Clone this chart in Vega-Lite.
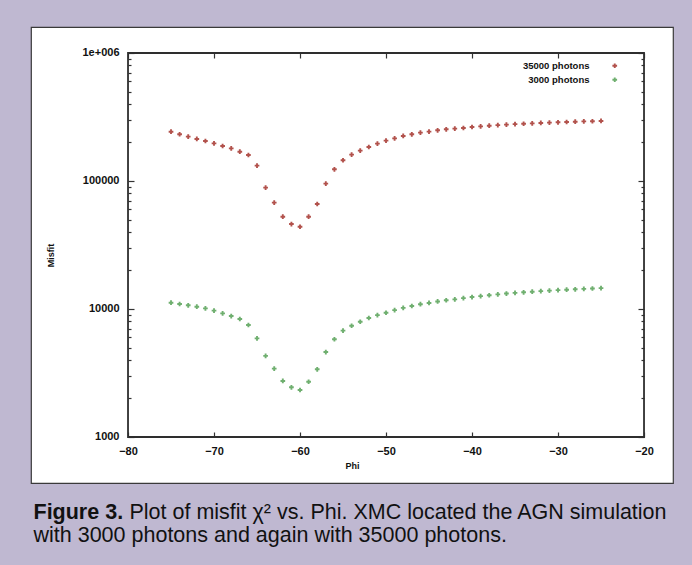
{
  "$schema": "https://vega.github.io/schema/vega-lite/v6.json",
  "width": 642,
  "height": 456,
  "autosize": {"type": "none"},
  "padding": {"left": 31, "top": 27, "right": 19, "bottom": 82},
  "background": "#bfb8d1",
  "config": {
    "view": {"fill": "white", "stroke": "#3a3a3a", "strokeWidth": 1.2},
    "axis": {
      "grid": false,
      "domain": false,
      "labelFont": "Liberation Sans",
      "labelFontWeight": "bold",
      "labelFontSize": 11,
      "labelColor": "#111111",
      "tickColor": "#333333",
      "tickWidth": 1.2,
      "titleFont": "Liberation Sans",
      "titleFontWeight": "bold",
      "titleFontSize": 9,
      "titleColor": "#111111"
    }
  },
  "datasets": {
    "fit": [
      {"phi": -75, "misfit": 242700, "series": "35000 photons"},
      {"phi": -74, "misfit": 231700, "series": "35000 photons"},
      {"phi": -73, "misfit": 222000, "series": "35000 photons"},
      {"phi": -72, "misfit": 213000, "series": "35000 photons"},
      {"phi": -71, "misfit": 205400, "series": "35000 photons"},
      {"phi": -70, "misfit": 196900, "series": "35000 photons"},
      {"phi": -69, "misfit": 187600, "series": "35000 photons"},
      {"phi": -68, "misfit": 180000, "series": "35000 photons"},
      {"phi": -67, "misfit": 169400, "series": "35000 photons"},
      {"phi": -66, "misfit": 159600, "series": "35000 photons"},
      {"phi": -65, "misfit": 131800, "series": "35000 photons"},
      {"phi": -64, "misfit": 88700, "series": "35000 photons"},
      {"phi": -63, "misfit": 67700, "series": "35000 photons"},
      {"phi": -62, "misfit": 52600, "series": "35000 photons"},
      {"phi": -61, "misfit": 46100, "series": "35000 photons"},
      {"phi": -60, "misfit": 43900, "series": "35000 photons"},
      {"phi": -59, "misfit": 52600, "series": "35000 photons"},
      {"phi": -58, "misfit": 66100, "series": "35000 photons"},
      {"phi": -57, "misfit": 95300, "series": "35000 photons"},
      {"phi": -56, "misfit": 123400, "series": "35000 photons"},
      {"phi": -55, "misfit": 145200, "series": "35000 photons"},
      {"phi": -54, "misfit": 160600, "series": "35000 photons"},
      {"phi": -53, "misfit": 172500, "series": "35000 photons"},
      {"phi": -52, "misfit": 184300, "series": "35000 photons"},
      {"phi": -51, "misfit": 195700, "series": "35000 photons"},
      {"phi": -50, "misfit": 206500, "series": "35000 photons"},
      {"phi": -49, "misfit": 215400, "series": "35000 photons"},
      {"phi": -48, "misfit": 224800, "series": "35000 photons"},
      {"phi": -47, "misfit": 231600, "series": "35000 photons"},
      {"phi": -46, "misfit": 238600, "series": "35000 photons"},
      {"phi": -45, "misfit": 243200, "series": "35000 photons"},
      {"phi": -44, "misfit": 248900, "series": "35000 photons"},
      {"phi": -43, "misfit": 253500, "series": "35000 photons"},
      {"phi": -42, "misfit": 256400, "series": "35000 photons"},
      {"phi": -41, "misfit": 259400, "series": "35000 photons"},
      {"phi": -40, "misfit": 264200, "series": "35000 photons"},
      {"phi": -39, "misfit": 267300, "series": "35000 photons"},
      {"phi": -38, "misfit": 270400, "series": "35000 photons"},
      {"phi": -37, "misfit": 273000, "series": "35000 photons"},
      {"phi": -36, "misfit": 275500, "series": "35000 photons"},
      {"phi": -35, "misfit": 278000, "series": "35000 photons"},
      {"phi": -34, "misfit": 280000, "series": "35000 photons"},
      {"phi": -33, "misfit": 282000, "series": "35000 photons"},
      {"phi": -32, "misfit": 284000, "series": "35000 photons"},
      {"phi": -31, "misfit": 286000, "series": "35000 photons"},
      {"phi": -30, "misfit": 287500, "series": "35000 photons"},
      {"phi": -29, "misfit": 289000, "series": "35000 photons"},
      {"phi": -28, "misfit": 290500, "series": "35000 photons"},
      {"phi": -27, "misfit": 292000, "series": "35000 photons"},
      {"phi": -26, "misfit": 293000, "series": "35000 photons"},
      {"phi": -25, "misfit": 294500, "series": "35000 photons"},
      {"phi": -75, "misfit": 11200, "series": "3000 photons"},
      {"phi": -74, "misfit": 10940, "series": "3000 photons"},
      {"phi": -73, "misfit": 10690, "series": "3000 photons"},
      {"phi": -72, "misfit": 10420, "series": "3000 photons"},
      {"phi": -71, "misfit": 10120, "series": "3000 photons"},
      {"phi": -70, "misfit": 9700, "series": "3000 photons"},
      {"phi": -69, "misfit": 9250, "series": "3000 photons"},
      {"phi": -68, "misfit": 8810, "series": "3000 photons"},
      {"phi": -67, "misfit": 8350, "series": "3000 photons"},
      {"phi": -66, "misfit": 7500, "series": "3000 photons"},
      {"phi": -65, "misfit": 5900, "series": "3000 photons"},
      {"phi": -64, "misfit": 4300, "series": "3000 photons"},
      {"phi": -63, "misfit": 3420, "series": "3000 photons"},
      {"phi": -62, "misfit": 2740, "series": "3000 photons"},
      {"phi": -61, "misfit": 2445, "series": "3000 photons"},
      {"phi": -60, "misfit": 2330, "series": "3000 photons"},
      {"phi": -59, "misfit": 2700, "series": "3000 photons"},
      {"phi": -58, "misfit": 3380, "series": "3000 photons"},
      {"phi": -57, "misfit": 4610, "series": "3000 photons"},
      {"phi": -56, "misfit": 5800, "series": "3000 photons"},
      {"phi": -55, "misfit": 6770, "series": "3000 photons"},
      {"phi": -54, "misfit": 7400, "series": "3000 photons"},
      {"phi": -53, "misfit": 7950, "series": "3000 photons"},
      {"phi": -52, "misfit": 8500, "series": "3000 photons"},
      {"phi": -51, "misfit": 8950, "series": "3000 photons"},
      {"phi": -50, "misfit": 9350, "series": "3000 photons"},
      {"phi": -49, "misfit": 9800, "series": "3000 photons"},
      {"phi": -48, "misfit": 10200, "series": "3000 photons"},
      {"phi": -47, "misfit": 10550, "series": "3000 photons"},
      {"phi": -46, "misfit": 10900, "series": "3000 photons"},
      {"phi": -45, "misfit": 11150, "series": "3000 photons"},
      {"phi": -44, "misfit": 11450, "series": "3000 photons"},
      {"phi": -43, "misfit": 11700, "series": "3000 photons"},
      {"phi": -42, "misfit": 11900, "series": "3000 photons"},
      {"phi": -41, "misfit": 12150, "series": "3000 photons"},
      {"phi": -40, "misfit": 12400, "series": "3000 photons"},
      {"phi": -39, "misfit": 12600, "series": "3000 photons"},
      {"phi": -38, "misfit": 12800, "series": "3000 photons"},
      {"phi": -37, "misfit": 13000, "series": "3000 photons"},
      {"phi": -36, "misfit": 13200, "series": "3000 photons"},
      {"phi": -35, "misfit": 13350, "series": "3000 photons"},
      {"phi": -34, "misfit": 13500, "series": "3000 photons"},
      {"phi": -33, "misfit": 13650, "series": "3000 photons"},
      {"phi": -32, "misfit": 13800, "series": "3000 photons"},
      {"phi": -31, "misfit": 13900, "series": "3000 photons"},
      {"phi": -30, "misfit": 14050, "series": "3000 photons"},
      {"phi": -29, "misfit": 14150, "series": "3000 photons"},
      {"phi": -28, "misfit": 14250, "series": "3000 photons"},
      {"phi": -27, "misfit": 14350, "series": "3000 photons"},
      {"phi": -26, "misfit": 14450, "series": "3000 photons"},
      {"phi": -25, "misfit": 14550, "series": "3000 photons"}
    ]
  },
  "layer": [
    {
      "data": {"values": [{}]},
      "mark": {"type": "rect", "fillOpacity": 0, "stroke": "#2e2e2e", "strokeWidth": 1.8},
      "encoding": {
        "x": {"datum": -80, "type": "quantitative", "scale": {"domain": [-91.28, -16.63], "nice": false, "zero": false},
              "axis": {"orient": "top", "offset": -26, "values": [-80, -70, -60, -50, -40, -30, -20], "tickSize": -5, "labels": false,
                       "title": "Figure 3.", "titleX": 2, "titleY": 448, "titleAlign": "left", "titleAnchor": "start", "titleBaseline": "top", "titleAngle": 0,
                       "titleFont": "Liberation Sans", "titleFontSize": 21.5, "titleFontWeight": "bold", "titleColor": "#111111"}},
        "x2": {"datum": -20},
        "y": {"datum": 1000, "type": "quantitative", "scale": {"type": "log", "domain": [437.1, 1596000], "nice": false},
              "axis": {"orient": "right", "offset": -29, "values": [1000, 10000, 100000, 1000000], "tickSize": -6, "labels": false,
                       "title": "Plot of misfit \u03c7\u00b2 vs. Phi. XMC located the AGN simulation", "titleX": -515, "titleY": 474, "titleAlign": "left", "titleAnchor": "start", "titleBaseline": "top", "titleAngle": 0,
                       "titleFont": "Liberation Sans", "titleFontSize": 21.5, "titleFontWeight": "normal", "titleColor": "#111111"}},
        "y2": {"datum": 1000000}
      }
    },
    {
      "data": {"values": [{}]},
      "mark": {"type": "rect", "fillOpacity": 0, "strokeOpacity": 0},
      "encoding": {
        "x": {"datum": -80, "type": "quantitative", "axis": null},
        "x2": {"datum": -20},
        "y": {"datum": 1000, "type": "quantitative",
              "axis": {"orient": "left", "offset": -97, "values": [2000, 3000, 4000, 5000, 6000, 7000, 8000, 9000, 20000, 30000, 40000, 50000, 60000, 70000, 80000, 90000, 200000, 300000, 400000, 500000, 600000, 700000, 800000, 900000], "tickSize": -3, "labels": false,
                       "title": "with 3000 photons and again with 35000 photons.", "titleX": -95, "titleY": 497, "titleAlign": "left", "titleAnchor": "start", "titleBaseline": "top", "titleAngle": 0,
                       "titleFont": "Liberation Sans", "titleFontSize": 21.5, "titleFontWeight": "normal", "titleColor": "#111111"}},
        "y2": {"datum": 1000000}
      }
    },
    {
      "data": {"values": [{}]},
      "mark": {"type": "rect", "fillOpacity": 0, "strokeOpacity": 0},
      "encoding": {
        "x": {"datum": -80, "type": "quantitative", "axis": null},
        "x2": {"datum": -20},
        "y": {"datum": 1000, "type": "quantitative",
              "axis": {"orient": "right", "offset": -29, "values": [2000, 3000, 4000, 5000, 6000, 7000, 8000, 9000, 20000, 30000, 40000, 50000, 60000, 70000, 80000, 90000, 200000, 300000, 400000, 500000, 600000, 700000, 800000, 900000], "tickSize": -3, "labels": false, "title": null}},
        "y2": {"datum": 1000000}
      }
    },
    {
      "data": {"name": "fit"},
      "mark": {"type": "point", "shape": "cross", "filled": true, "size": 22, "opacity": 0.9},
      "encoding": {
        "x": {"field": "phi", "type": "quantitative",
              "axis": {"orient": "bottom", "offset": -46, "values": [-80, -70, -60, -50, -40, -30, -20], "tickSize": -5, "labelPadding": 13, "title": "Phi", "titlePadding": 5}},
        "y": {"field": "misfit", "type": "quantitative",
              "axis": {"orient": "left", "offset": -97, "values": [1000, 10000, 100000, 1000000], "tickSize": -6, "labelPadding": 15,
                       "labelExpr": "datum.value >= 1000000 ? '1e+006' : format(datum.value, 'd')", "title": "Misfit", "titlePadding": 26}},
        "color": {"field": "series", "type": "nominal",
                  "scale": {"domain": ["35000 photons", "3000 photons"], "range": ["#aa3f38", "#5fa65f"]},
                  "legend": {"orient": "none", "legendX": 579, "legendY": 34, "title": null, "padding": 0,
                             "labelAlign": "right", "labelOffset": -30, "labelFont": "Liberation Sans", "labelFontSize": 9.5,
                             "labelFontWeight": "bold", "labelColor": "#111111", "symbolType": "cross", "symbolSize": 22, "rowPadding": 3}}
      }
    }
  ],
  "resolve": {"axis": {"x": "independent", "y": "independent"}}
}
